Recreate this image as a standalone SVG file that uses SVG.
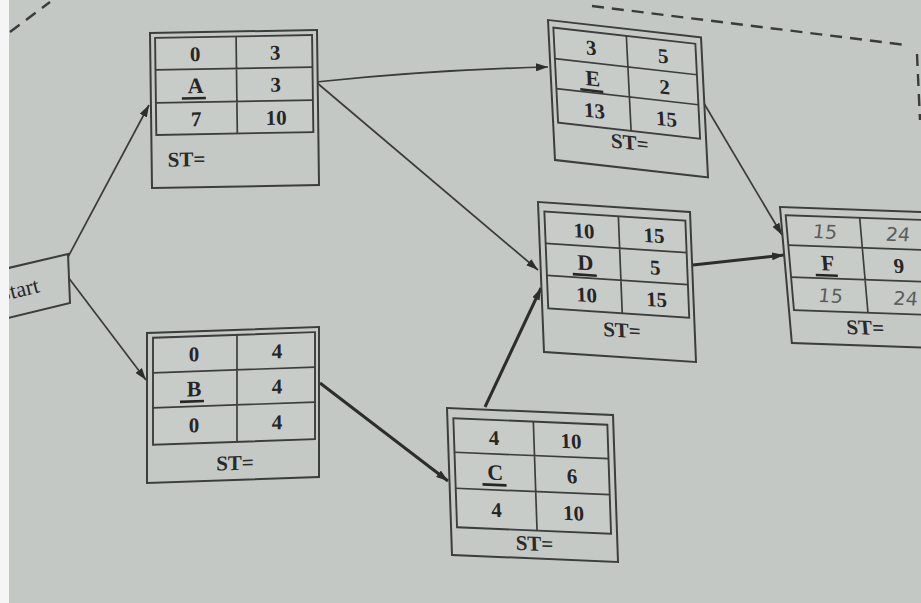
<svg xmlns="http://www.w3.org/2000/svg" width="921" height="603" viewBox="0 0 921 603">
<defs>
<style>
.box{fill:#c5c9c6;stroke:#3c3e3d;stroke-width:2}
.tbl{fill:#c8ccc9;stroke:#3c3e3d;stroke-width:1.9}
.grid{stroke:#3c3e3d;stroke-width:1.7;fill:none}
.num{font-family:"Liberation Serif",serif;font-weight:bold;font-size:21px;fill:#262626;text-anchor:middle}
.let{font-family:"Liberation Serif",serif;font-weight:bold;font-size:22px;fill:#262626;text-anchor:middle}
.st{font-family:"Liberation Serif",serif;font-weight:bold;font-size:21px;fill:#2a2a2a}
.hw{font-family:"DejaVu Sans",sans-serif;font-style:italic;font-size:19px;fill:#5a5c5b;text-anchor:middle}
.ul{stroke:#262626;stroke-width:2.6}
.thin{fill:none;stroke:#3a3b3b;stroke-width:1.7}
.thick{fill:none;stroke:#2c2d2d;stroke-width:3}
.dash{fill:none;stroke:#3a3b3b;stroke-width:2.4;stroke-dasharray:12 8}
</style>
<marker id="ah" viewBox="0 0 12 8" refX="12" refY="4" markerWidth="12" markerHeight="8" markerUnits="userSpaceOnUse" orient="auto">
<path d="M0,0 L12,4 L0,8 Z" fill="#2c2d2d"/>
</marker>
<clipPath id="leftclip"><rect x="9" y="0" width="912" height="603"/></clipPath>
</defs>
<rect x="0" y="0" width="921" height="603" fill="#c4c8c5"/>
<rect x="0" y="0" width="9" height="603" fill="#f4f5f4"/>
<path class="dash" d="M10,32 L50,2"/>
<path class="dash" d="M592,6 L906,45"/>
<path class="dash" d="M917,54 L920,120"/>

<g id="connectors">
<path class="thin" d="M68,257 L149,105" marker-end="url(#ah)"/>
<path class="thin" d="M68,277 L146,380" marker-end="url(#ah)"/>
<path class="thin" d="M316,82 Q430,70 548,67" marker-end="url(#ah)"/>
<path class="thin" d="M316,82 L538,270" marker-end="url(#ah)"/>
<path class="thick" d="M320,383 L448,481" marker-end="url(#ah)"/>
<path class="thick" d="M485,407 L541,288" marker-end="url(#ah)"/>
<path class="thin" d="M702,100 L782,235" marker-end="url(#ah)"/>
<path class="thick" d="M693,265 L784,255" marker-end="url(#ah)"/>
</g>

<g id="start" clip-path="url(#leftclip)">
<polygon class="box" points="0,270 68,254 70,303 0,320"/>
<text x="0" y="302" transform="rotate(-14 0 302)" font-family="Liberation Serif, serif" font-size="22" fill="#262626">Start</text>
</g>

<g id="nodeA" transform="matrix(1,-0.018,0.013,1,150,33)">
<rect class="box" x="0" y="0" width="167" height="155"/>
<rect class="tbl" x="5" y="5" width="157" height="97"/>
<path class="grid" d="M5,37 H162 M5,70 H162 M86,5 V102"/>
<text class="num" x="45" y="29">0</text><text class="num" x="125" y="29">3</text>
<text class="let" x="45" y="61">A</text><text class="num" x="125" y="61">3</text>
<line class="ul" x1="31" y1="66" x2="55" y2="66"/>
<text class="num" x="45" y="94">7</text><text class="num" x="125" y="94">10</text>
<text class="st" x="16" y="134">ST=</text>
</g>

<g id="nodeE" transform="matrix(1,0.114,0.05,1,548,20)">
<rect class="box" x="0" y="0" width="153" height="140"/>
<rect class="tbl" x="5" y="7" width="142" height="95"/>
<path class="grid" d="M5,38 H147 M5,68 H147 M78,7 V102"/>
<text class="num" x="42" y="30">3</text><text class="num" x="114" y="30">5</text>
<text class="let" x="42" y="61">E</text><text class="num" x="114" y="61">2</text>
<line class="ul" x1="29" y1="66" x2="52" y2="66"/>
<text class="num" x="42" y="93">13</text><text class="num" x="114" y="93">15</text>
<text class="st" x="76" y="121" text-anchor="middle">ST=</text>
</g>

<g id="nodeD" transform="matrix(1,0.066,0.04,1,538,202)">
<rect class="box" x="0" y="0" width="152" height="150"/>
<rect class="tbl" x="6" y="9" width="141" height="97"/>
<path class="grid" d="M6,41 H147 M6,73 H147 M80,9 V106"/>
<text class="num" x="45" y="33">10</text><text class="num" x="115" y="33">15</text>
<text class="let" x="45" y="65">D</text><text class="num" x="115" y="65">5</text>
<line class="ul" x1="32" y1="70" x2="56" y2="70"/>
<text class="num" x="45" y="97">10</text><text class="num" x="115" y="97">15</text>
<text class="st" x="79" y="130" text-anchor="middle">ST=</text>
</g>

<g id="nodeF" transform="matrix(1,0.035,0.087,1,780,207)">
<rect class="box" x="0" y="0" width="156" height="136"/>
<rect class="tbl" x="5" y="8" width="146" height="95"/>
<path class="grid" d="M5,38 H151 M5,70 H151 M79,8 V103"/>
<text class="hw" x="43" y="30">15</text><text class="hw" x="116" y="30">24</text>
<text class="let" x="43" y="62">F</text><text class="num" x="114" y="62">9</text>
<line class="ul" x1="30" y1="67" x2="52" y2="67"/>
<text class="hw" x="43" y="94">15</text><text class="hw" x="118" y="94">24</text>
<text class="st" x="75" y="125" text-anchor="middle">ST=</text>
</g>

<g id="nodeB" transform="matrix(1,-0.035,0,1,147,333)">
<rect class="box" x="0" y="0" width="172" height="150"/>
<rect class="tbl" x="6" y="5" width="162" height="107"/>
<path class="grid" d="M6,40 H168 M6,75 H168 M90,5 V112"/>
<text class="num" x="47" y="30">0</text><text class="num" x="130" y="30">4</text>
<text class="let" x="47" y="65">B</text><text class="num" x="130" y="65">4</text>
<line class="ul" x1="33" y1="70" x2="57" y2="70"/>
<text class="num" x="47" y="101">0</text><text class="num" x="130" y="101">4</text>
<text class="st" x="88" y="140" text-anchor="middle">ST=</text>
</g>

<g id="nodeC" transform="matrix(1,0.042,0.034,1,447,408)">
<rect class="box" x="0" y="0" width="166" height="147"/>
<rect class="tbl" x="6" y="10" width="154" height="109"/>
<path class="grid" d="M6,44 H160 M6,80 H160 M86,10 V119"/>
<text class="num" x="46" y="35">4</text><text class="num" x="123" y="35">10</text>
<text class="let" x="46" y="70">C</text><text class="num" x="123" y="70">6</text>
<line class="ul" x1="33" y1="75" x2="57" y2="75"/>
<text class="num" x="46" y="107">4</text><text class="num" x="123" y="107">10</text>
<text class="st" x="83" y="139" text-anchor="middle">ST=</text>
</g>
</svg>
